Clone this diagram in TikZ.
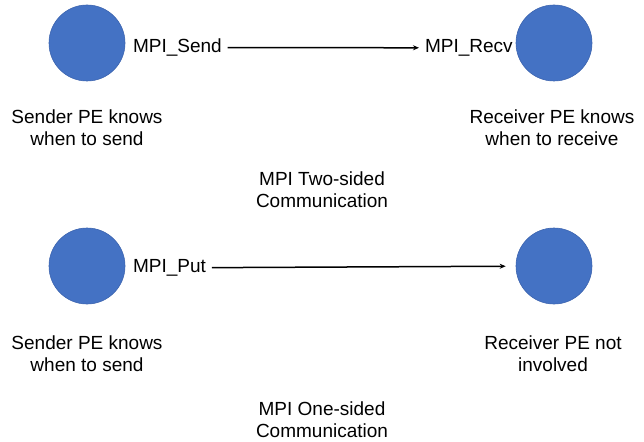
\documentclass[tikz,border=0pt]{standalone}
\usepackage{fontspec}
\setmainfont{Liberation Sans}
\usetikzlibrary{arrows.meta}
\definecolor{peblue}{RGB}{68,114,196}
\definecolor{peedge}{RGB}{60,100,175}
\begin{document}
\begin{tikzpicture}[x=1pt,y=-1pt,
  pe/.style={circle,fill=peblue,draw=peedge,line width=0.6pt,minimum size=76pt,inner sep=0pt},
  lbl/.style={font=\fontsize{19}{22}\selectfont,inner sep=0pt,outer xsep=6pt,outer ysep=0pt},
  desc/.style={font=\fontsize{19}{22}\selectfont,align=center,inner sep=0pt},
  conn/.style={line width=1.5pt,-{Stealth[length=6pt,width=5pt]}}]
\useasboundingbox (0,0) rectangle (644,441);
% top
\node[pe] (s1) at (87,43) {};
\node[pe] (r1) at (554,43) {};
\node[lbl,anchor=base west] (send) at (127,52.5) {MPI\_Send};
\node[lbl,anchor=base west] (recv) at (419,52.5) {MPI\_Recv};
\draw[conn] (send) -- (recv);
\node[desc] (sd1) at (87,128) {Sender PE knows\\when to send};
\node[desc] (rd1) at (552,128) {Receiver PE knows\\when to receive};
\node[desc] (t1) at (322,189.5) {MPI Two-sided\\Communication};
% bottom
\node[pe] (s2) at (87,266) {};
\node[pe] (r2) at (554,266) {};
\node[lbl,anchor=base west] (put) at (127,272.5) {MPI\_Put};
\draw[conn,shorten >=10pt] (put) -- (r2);
\node[desc] (sd2) at (87,354) {Sender PE knows\\when to send};
\node[desc] (rd2) at (553,354) {Receiver PE not\\involved};
\node[desc] (t2) at (322,419.5) {MPI One-sided\\Communication};
\end{tikzpicture}
\end{document}
